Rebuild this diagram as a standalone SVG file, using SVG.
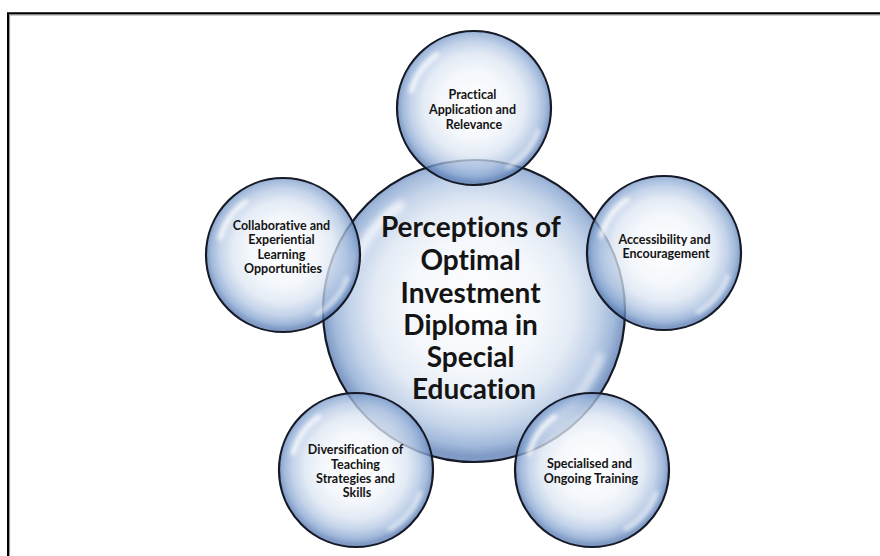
<svg xmlns="http://www.w3.org/2000/svg" width="880" height="556" viewBox="0 0 880 556">
  <defs>
    <radialGradient id="bubbleFill" cx="50%" cy="48%" r="50%">
      <stop offset="0" stop-color="#ffffff"/>
      <stop offset="0.45" stop-color="#f0f4fa"/>
      <stop offset="0.66" stop-color="#dbe5f2"/>
      <stop offset="0.82" stop-color="#b2c6e3"/>
      <stop offset="0.93" stop-color="#85a4d0"/>
      <stop offset="1" stop-color="#587bb3"/>
    </radialGradient>
    <filter id="soft" x="-50%" y="-50%" width="200%" height="200%">
      <feGaussianBlur stdDeviation="2"/>
    </filter>
    <filter id="softer" x="-50%" y="-50%" width="200%" height="200%">
      <feGaussianBlur stdDeviation="3.5"/>
    </filter>
    <style>
      .bubble { fill: url(#bubbleFill); fill-opacity: 0.76; stroke: #161a26; stroke-width: 2.2; }
      .shine { fill: none; stroke: #ffffff; stroke-linecap: round; }
      .label { font-family: "Lato", "Open Sans", "Liberation Sans", sans-serif; font-weight: 700; fill: #141414; text-anchor: middle; font-variant-ligatures: none; }
      .small { font-size: 12.5px; }
      .big { font-size: 28px; }
    </style>
  </defs>

  <rect width="880" height="556" fill="#ffffff"/>

  <!-- page frame: only top and left edges fall inside the canvas -->
  <path d="M9.5 556 V14.8 H880" fill="none" stroke="#9a9a9a" stroke-width="1.2"/>
  <path d="M8 556 V13.3 H880" fill="none" stroke="#000000" stroke-width="2"/>

  <!-- central topic -->
  <g id="node-center">
    <g transform="translate(474 311)">
      <circle class="bubble" r="151"/>
      <path class="shine" d="M -124.6 -33.4 A 129 129 0 0 1 -74 -105.7" stroke-width="9" opacity="0.8" filter="url(#softer)"/>
      <path class="shine" d="M 125.9 45.8 A 134 134 0 0 1 67 116" stroke-width="8" opacity="0.6" filter="url(#softer)"/>
    </g>
  </g>

  <!-- surrounding themes -->
  <g id="node-practical">
    <g transform="translate(474 108)">
      <circle class="bubble" r="77"/>
      <path class="shine" d="M -62.8 -16.8 A 65 65 0 0 1 -37.3 -53.2" stroke-width="5" opacity="0.85" filter="url(#soft)"/>
      <path class="shine" d="M 63.9 23.3 A 68 68 0 0 1 34 58.9" stroke-width="5" opacity="0.6" filter="url(#soft)"/>
    </g>
  </g>

  <g id="node-accessibility">
    <g transform="translate(664 253)">
      <circle class="bubble" r="77"/>
      <path class="shine" d="M -62.8 -16.8 A 65 65 0 0 1 -37.3 -53.2" stroke-width="5" opacity="0.85" filter="url(#soft)"/>
      <path class="shine" d="M 63.9 23.3 A 68 68 0 0 1 34 58.9" stroke-width="5" opacity="0.6" filter="url(#soft)"/>
    </g>
  </g>

  <g id="node-specialised">
    <g transform="translate(592 470)">
      <circle class="bubble" r="77"/>
      <path class="shine" d="M -62.8 -16.8 A 65 65 0 0 1 -37.3 -53.2" stroke-width="5" opacity="0.85" filter="url(#soft)"/>
      <path class="shine" d="M 63.9 23.3 A 68 68 0 0 1 34 58.9" stroke-width="5" opacity="0.6" filter="url(#soft)"/>
    </g>
  </g>

  <g id="node-diversification">
    <g transform="translate(356 470)">
      <circle class="bubble" r="77"/>
      <path class="shine" d="M -62.8 -16.8 A 65 65 0 0 1 -37.3 -53.2" stroke-width="5" opacity="0.85" filter="url(#soft)"/>
      <path class="shine" d="M 63.9 23.3 A 68 68 0 0 1 34 58.9" stroke-width="5" opacity="0.6" filter="url(#soft)"/>
    </g>
  </g>

  <g id="node-collaborative">
    <g transform="translate(283 255)">
      <circle class="bubble" r="77"/>
      <path class="shine" d="M -62.8 -16.8 A 65 65 0 0 1 -37.3 -53.2" stroke-width="5" opacity="0.85" filter="url(#soft)"/>
      <path class="shine" d="M 63.9 23.3 A 68 68 0 0 1 34 58.9" stroke-width="5" opacity="0.6" filter="url(#soft)"/>
    </g>
  </g>

  <!-- labels -->
  <g id="labels">
    <text class="label big">
      <tspan x="474" y="237">Perceptions of</tspan>
      <tspan x="474" y="270">Optimal</tspan>
      <tspan x="474" y="303">Investment</tspan>
      <tspan x="474" y="335">Diploma in</tspan>
      <tspan x="474" y="367">Special</tspan>
      <tspan x="474" y="399">Education</tspan>
    </text>
    <text class="label small">
      <tspan x="474" y="99">Practical</tspan>
      <tspan x="474" y="114">Application and</tspan>
      <tspan x="474" y="129">Relevance</tspan>
    </text>
    <text class="label small">
      <tspan x="666" y="244">Accessibility and</tspan>
      <tspan x="666" y="258">Encouragement</tspan>
    </text>
    <text class="label small">
      <tspan x="591" y="468">Specialised and</tspan>
      <tspan x="591" y="483">Ongoing Training</tspan>
    </text>
    <text class="label small">
      <tspan x="357" y="454">Diversification of</tspan>
      <tspan x="357" y="469">Teaching</tspan>
      <tspan x="357" y="483">Strategies and</tspan>
      <tspan x="357" y="497">Skills</tspan>
    </text>
    <text class="label small">
      <tspan x="283" y="230">Collaborative and</tspan>
      <tspan x="283" y="244">Experiential</tspan>
      <tspan x="283" y="259">Learning</tspan>
      <tspan x="283" y="273">Opportunities</tspan>
    </text>
  </g>
</svg>
